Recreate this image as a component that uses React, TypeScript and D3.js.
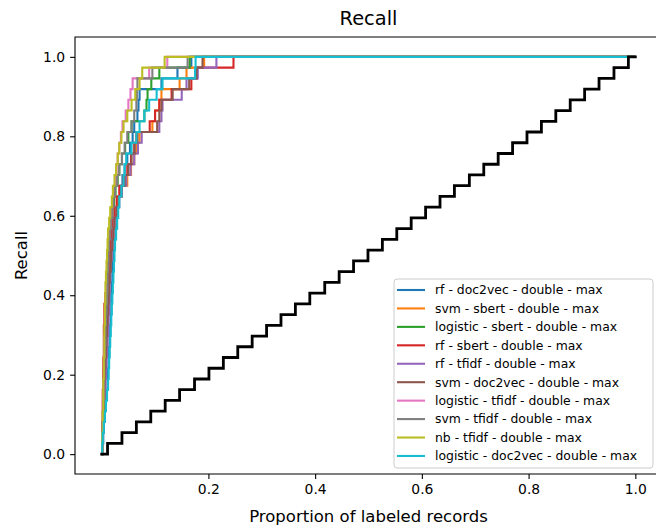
import React, { useEffect, useRef } from 'react';
import * as d3 from 'd3';

// records screened in the simulation, and relevant records to find
const TOTAL_RECORDS = 1000;
const N_RELEVANT = 37;

const seriesNames = [
  'rf - doc2vec - double - max',
  'svm - sbert - double - max',
  'logistic - sbert - double - max',
  'rf - sbert - double - max',
  'rf - tfidf - double - max',
  'svm - doc2vec - double - max',
  'logistic - tfidf - double - max',
  'svm - tfidf - double - max',
  'nb - tfidf - double - max',
  'logistic - doc2vec - double - max',
];

const seriesColors = ['#1f77b4', '#ff7f0e', '#2ca02c', '#d62728', '#9467bd', '#8c564b', '#e377c2', '#7f7f7f', '#bcbd22', '#17becf'];

// record index at which each relevant record was found
const rfDoc2vec = [1, 3, 4, 6, 7, 9, 11, 12, 13, 14, 15, 16, 17, 18, 18, 19, 20, 21, 23, 24, 26, 28, 30, 32, 35, 39, 43, 48, 53, 58, 61, 67, 69, 71, 112, 142, 168];
const svmSbert = [1, 2, 2, 3, 4, 5, 5, 6, 7, 8, 9, 10, 11, 12, 13, 14, 15, 16, 17, 18, 20, 22, 26, 31, 38, 48, 55, 61, 66, 71, 95, 100, 108, 112, 146, 159, 192];
const logisticSbert = [1, 1, 2, 2, 3, 3, 4, 4, 5, 5, 6, 6, 7, 8, 9, 10, 11, 12, 14, 15, 16, 18, 20, 23, 26, 30, 33, 38, 44, 50, 56, 80, 84, 86, 93, 108, 165];
const rfSbert = [1, 1, 1, 2, 2, 2, 3, 3, 3, 4, 4, 4, 5, 5, 7, 9, 11, 13, 15, 17, 19, 20, 24, 28, 33, 41, 48, 55, 61, 65, 90, 100, 108, 131, 168, 178, 247];
const rfTfidf = [1, 2, 3, 4, 5, 6, 7, 8, 9, 10, 11, 12, 13, 14, 14, 15, 16, 17, 19, 20, 22, 24, 28, 33, 38, 46, 54, 61, 68, 75, 108, 112, 114, 150, 159, 180, 215];
const svmDoc2vec = [1, 2, 2, 3, 4, 5, 5, 6, 7, 8, 9, 10, 11, 12, 13, 14, 15, 17, 18, 20, 22, 24, 28, 32, 37, 43, 50, 56, 62, 67, 104, 108, 112, 133, 164, 178, 189];
const logisticTfidf = [1, 1, 2, 2, 2, 3, 3, 4, 4, 5, 5, 6, 6, 7, 8, 9, 10, 11, 12, 13, 14, 16, 18, 20, 23, 26, 28, 30, 33, 36, 39, 45, 50, 54, 58, 89, 123];
const svmTfidf = [1, 2, 2, 3, 3, 4, 4, 5, 5, 6, 7, 7, 8, 9, 10, 11, 11, 12, 13, 14, 16, 18, 20, 22, 25, 29, 33, 38, 43, 48, 56, 61, 65, 66, 67, 95, 161];
const nbTfidf = [1, 1, 2, 2, 3, 3, 3, 4, 4, 5, 5, 5, 6, 6, 7, 7, 8, 9, 10, 11, 12, 14, 16, 19, 21, 24, 27, 30, 33, 37, 41, 48, 56, 63, 71, 76, 118];
const logisticDoc2vec = [1, 2, 4, 6, 8, 10, 12, 13, 14, 15, 16, 17, 18, 19, 20, 21, 22, 23, 24, 25, 27, 29, 31, 33, 37, 41, 43, 46, 56, 65, 71, 80, 89, 103, 114, 175, 176];

// random screening baseline
const randomBaseline = [11, 38, 65, 92, 119, 146, 174, 201, 228, 255, 282, 309, 336, 363, 390, 418, 445, 472, 499, 526, 553, 580, 607, 634, 661, 689, 716, 743, 770, 797, 824, 851, 878, 905, 932, 960, 987];

const xTicks = [0.2, 0.4, 0.6, 0.8, 1.0];
const yTicks = [0.0, 0.2, 0.4, 0.6, 0.8, 1.0];

const allSeries = [rfDoc2vec, svmSbert, logisticSbert, rfSbert, rfTfidf, svmDoc2vec, logisticTfidf, svmTfidf, nbTfidf, logisticDoc2vec];

function toCurve(hits: number[]): [number, number][] {
  const pts: [number, number][] = [[0, 0]];
  hits.forEach((h, i) => pts.push([h / TOTAL_RECORDS, (i + 1) / N_RELEVANT]));
  pts.push([1, 1]);
  return pts;
}

function RecallChart() {
  const ref = useRef<SVGSVGElement>(null);

  const width = 656;
  const height = 529;
  const axLeft = 75;
  const axRight = 662;
  const axTop = 37;
  const axBottom = 474;
  const font = 'DejaVu Sans, sans-serif';

  useEffect(() => {
    const svg = d3.select(ref.current);
    svg.selectAll('*').remove();

    const x = d3.scaleLinear().domain([-0.05, 1.05]).range([axLeft, axRight]);
    const y = d3.scaleLinear().domain([-0.05, 1.05]).range([axBottom, axTop]);

    const clip = svg.append('defs').append('clipPath').attr('id', 'plot-clip');
    clip.append('rect').attr('x', axLeft).attr('y', axTop).attr('width', axRight - axLeft).attr('height', axBottom - axTop);

    const line = d3
      .line<[number, number]>()
      .x((d) => x(d[0]))
      .y((d) => y(d[1]))
      .curve(d3.curveStepAfter);

    const plot = svg.append('g').attr('clip-path', 'url(#plot-clip)');

    allSeries.forEach((s, i) => {
      plot
        .append('path')
        .attr('d', line(toCurve(s)))
        .attr('fill', 'none')
        .attr('stroke', seriesColors[i])
        .attr('stroke-width', 2.1)
        .attr('stroke-linejoin', 'miter');
    });

    plot
      .append('path')
      .attr('d', line(toCurve(randomBaseline)))
      .attr('fill', 'none')
      .attr('stroke', '#000000')
      .attr('stroke-width', 2.8)
      .attr('stroke-linecap', 'square');

    // axes
    const xAxis = svg
      .append('g')
      .attr('transform', `translate(0, ${axBottom})`)
      .call(d3.axisBottom(x).tickValues(xTicks).tickFormat(d3.format('.1f')).tickSize(4.9).tickPadding(4.9));
    const yAxis = svg
      .append('g')
      .attr('transform', `translate(${axLeft}, 0)`)
      .call(d3.axisLeft(y).tickValues(yTicks).tickFormat(d3.format('.1f')).tickSize(4.9).tickPadding(4.9));

    [xAxis, yAxis].forEach((a) => {
      a.select('.domain').remove();
      a.selectAll('line').attr('stroke', '#000').attr('stroke-width', 1.1);
      a.selectAll('text').attr('font-family', font).attr('font-size', 13.9).attr('fill', '#000');
    });

    // spines
    svg
      .append('path')
      .attr('d', `M${axRight},${axTop}H${axLeft}V${axBottom}H${axRight}`)
      .attr('fill', 'none')
      .attr('stroke', '#000')
      .attr('stroke-width', 1.1);

    // legend
    const legend = svg.append('g').attr('transform', 'translate(394, 279)');
    legend
      .append('rect')
      .attr('width', 259)
      .attr('height', 189)
      .attr('rx', 3)
      .attr('fill', '#ffffff')
      .attr('fill-opacity', 0.8)
      .attr('stroke', '#cccccc')
      .attr('stroke-width', 1);

    seriesNames.forEach((name, i) => {
      const row = legend.append('g').attr('transform', `translate(0, ${11 + i * 18.44})`);
      row
        .append('line')
        .attr('x1', 3)
        .attr('x2', 31)
        .attr('stroke', seriesColors[i])
        .attr('stroke-width', 2.1);
      row
        .append('text')
        .attr('x', 41)
        .attr('dy', '0.35em')
        .attr('font-family', font)
        .attr('font-size', 12.4)
        .attr('fill', '#000')
        .text(name);
    });

    // titles
    svg
      .append('text')
      .attr('x', (axLeft + axRight) / 2)
      .attr('y', 25)
      .attr('text-anchor', 'middle')
      .attr('font-family', font)
      .attr('font-size', 19.4)
      .text('Recall');

    svg
      .append('text')
      .attr('x', (axLeft + axRight) / 2)
      .attr('y', 522)
      .attr('text-anchor', 'middle')
      .attr('font-family', font)
      .attr('font-size', 16.5)
      .text('Proportion of labeled records');

    svg
      .append('text')
      .attr('transform', `translate(27, ${(axTop + axBottom) / 2}) rotate(-90)`)
      .attr('text-anchor', 'middle')
      .attr('font-family', font)
      .attr('font-size', 16.5)
      .text('Recall');
  }, []);

  return (
    <svg
      ref={ref}
      width={width}
      height={height}
      style={{ position: 'absolute', left: 0, top: 0, background: '#ffffff' }}
    />
  );
}

export default function App() {
  return <RecallChart />;
}
